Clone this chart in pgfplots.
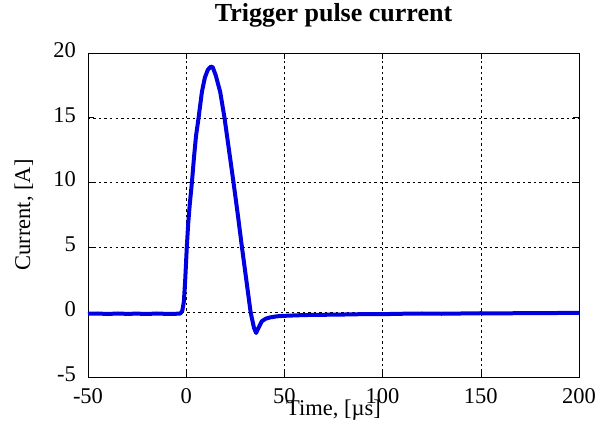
\documentclass[border=0pt]{standalone}
\usepackage{fontspec}
\setmainfont{Liberation Serif}
\usepackage{pgfplots}
\pgfplotsset{compat=1.18}
\definecolor{pulseblue}{RGB}{0,0,225}
\begin{document}
\begin{tikzpicture}
\path[use as bounding box] (0,0) rectangle (597pt,423pt);
\begin{axis}[
  at={(88pt,46pt)}, anchor=south west,
  scale only axis, width=491pt, height=324pt,
  xmin=-50, xmax=200, ymin=-5, ymax=20,
  xtick={-50,0,50,100,150,200},
  xticklabels={-50,0,50,100,150,200},
  ytick={-5,0,5,10,15,20},
  yticklabels={-5,0,5,10,15,20},
  tick align=inside, major tick length=6pt,
  tick style={black, line width=0.6pt},
  axis line style={black, line width=0.8pt},
  grid=major,
  major grid style={black, line width=0.45pt, dash pattern=on 2.5pt off 3pt},
  ticklabel style={font=\fontsize{22.5}{24}\selectfont},
  xticklabel style={anchor=base, yshift=-26pt},
  yticklabel style={anchor=east, inner sep=0pt, xshift=-12pt, yshift=3pt},
  title={Trigger pulse current},
  title style={font=\bfseries\fontsize{26}{28}\selectfont, at={(axis description cs:0.5,1.0802)}, anchor=base},
  xlabel={Time, [µs]},
  xlabel style={font=\fontsize{22.5}{24}\selectfont, at={(axis description cs:0.5,-0.1173)}, anchor=base},
  ylabel={Current, [A]},
  ylabel style={font=\fontsize{22.5}{24}\selectfont, at={(axis description cs:-0.1180,0.5)}, anchor=base},
]
\addplot[pulseblue, line width=4pt, line join=round] coordinates {
(-50,-0.12) (-45,-0.1) (-40,-0.14) (-35,-0.1) (-30,-0.13) (-25,-0.11) (-20,-0.14) (-15,-0.1) (-10,-0.13) (-5,-0.12) (-3,-0.1)
(-2,0.1) (-1.2,0.8) (-0.5,2.5) (0.3,5) (1,6.8) (1.8,8.3) (2.9,10) (4,12) (5,13.6) (6.3,15) (8,17) (9.5,18.1) (11,18.7) (12.5,18.95) (13.5,18.9)
(15,18.3) (17.3,17) (19.5,15) (21.8,12.5) (24.1,10) (26.3,7.5) (28.4,5) (30.6,2.5) (32.8,0) (34.5,-1.2) (35.6,-1.6) (36.5,-1.3)
(38.5,-0.7) (40.5,-0.5) (42.8,-0.4) (46,-0.32) (50,-0.28) (55,-0.25) (60,-0.22) (70,-0.2) (80,-0.18) (90,-0.15) (100,-0.15)
(110,-0.12) (120,-0.1) (130,-0.12) (140,-0.1) (150,-0.08) (160,-0.1) (170,-0.07) (180,-0.08) (190,-0.06) (200,-0.05)
};
\end{axis}
\end{tikzpicture}
\end{document}
